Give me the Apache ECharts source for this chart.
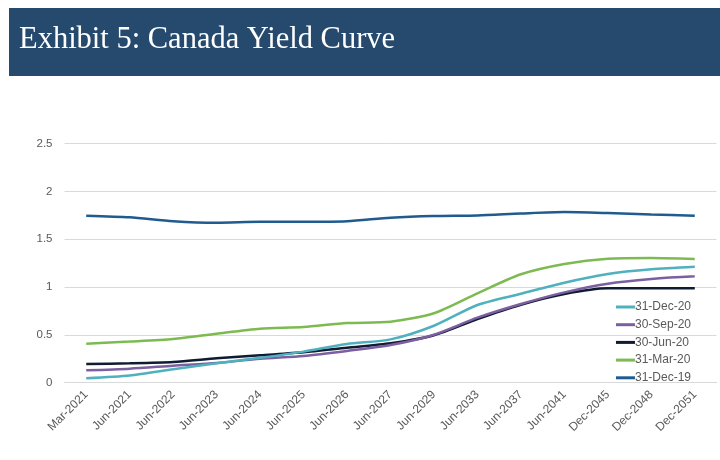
<!DOCTYPE html>
<html>
<head>
<meta charset="utf-8">
<script src="https://cdn.jsdelivr.net/npm/echarts@6/dist/echarts.min.js"></script>
<style>
html,body{margin:0;padding:0;background:#fff;}
#c{width:720px;height:460px;}
</style>
</head>
<body>
<div id="c"></div>
<script>
var titleText = "Exhibit 5: Canada Yield Curve";
var categories = ["Mar-2021","Jun-2021","Jun-2022","Jun-2023","Jun-2024","Jun-2025","Jun-2026","Jun-2027","Jun-2029","Jun-2033","Jun-2037","Jun-2041","Dec-2045","Dec-2048","Dec-2051"];
var dec20 = [0.046,0.075,0.14,0.203,0.26,0.325,0.405,0.453,0.596,0.813,0.93,1.046,1.137,1.186,1.213];
var sep20 = [0.13,0.147,0.178,0.206,0.25,0.279,0.332,0.394,0.502,0.68,0.823,0.945,1.036,1.085,1.113];
var jun20 = [0.196,0.203,0.217,0.255,0.287,0.318,0.366,0.412,0.496,0.666,0.816,0.928,0.987,0.987,0.987];
var mar20 = [0.408,0.43,0.457,0.513,0.565,0.583,0.624,0.638,0.726,0.935,1.134,1.242,1.297,1.304,1.294];
var dec19 = [1.747,1.73,1.69,1.674,1.684,1.684,1.69,1.726,1.744,1.75,1.77,1.785,1.775,1.76,1.747];
var seriesNames = ["31-Dec-20","30-Sep-20","30-Jun-20","31-Mar-20","31-Dec-19"];
var seriesData = [dec20, sep20, jun20, mar20, dec19];
var colors = ["#4FB0BE","#7B5FA0","#0E1B33","#7DBB52","#1F5B8E"];

var chart = echarts.init(document.getElementById('c'), null, {renderer:'canvas'});
var series = seriesNames.map(function(n,i){
  return {name:n, type:'line', data:seriesData[i], showSymbol:false, symbol:'none',
    smooth:0.25, lineStyle:{width:2.5,color:colors[i]}, itemStyle:{color:colors[i]}, z: 10-i};
});
chart.setOption({
  animation:false,
  backgroundColor:'#fff',
  graphic:[
    {type:'rect', shape:{x:9,y:8,width:711,height:68}, style:{fill:'#264A6E'}},
    {type:'text', left:19, top:24, style:{text:titleText, fill:'#ffffff', font:'30.5px "Liberation Serif", "DejaVu Serif", serif'}}
  ],
  grid:{left:64.5, right:3.5, top:143.7, bottom:460-382.7, containLabel:false},
  legend:{
    orient:'vertical', right:24, top:295, data:seriesNames,
    icon:'rect', itemWidth:19, itemHeight:3, itemGap:3.7,
    textStyle:{color:'#595959', fontSize:12, fontFamily:'Liberation Sans, Arial, sans-serif', lineHeight:14, padding:[0,0,0,-5]}
  },
  xAxis:{
    type:'category', data:categories, boundaryGap:true,
    axisLine:{show:true, lineStyle:{color:'#D9D9D9', width:1}},
    axisTick:{show:false},
    axisLabel:{interval:0, rotate:45, color:'#595959', fontSize:12, fontFamily:'Liberation Sans, Arial, sans-serif', margin:10}
  },
  yAxis:{
    type:'value', min:0, max:2.5, interval:0.5,
    axisLine:{show:false}, axisTick:{show:false},
    splitLine:{lineStyle:{color:'#D9D9D9', width:1}},
    axisLabel:{color:'#595959', fontSize:11.5, fontFamily:'Liberation Sans, Arial, sans-serif', margin:12}
  },
  series:series
});
</script>
</body>
</html>
